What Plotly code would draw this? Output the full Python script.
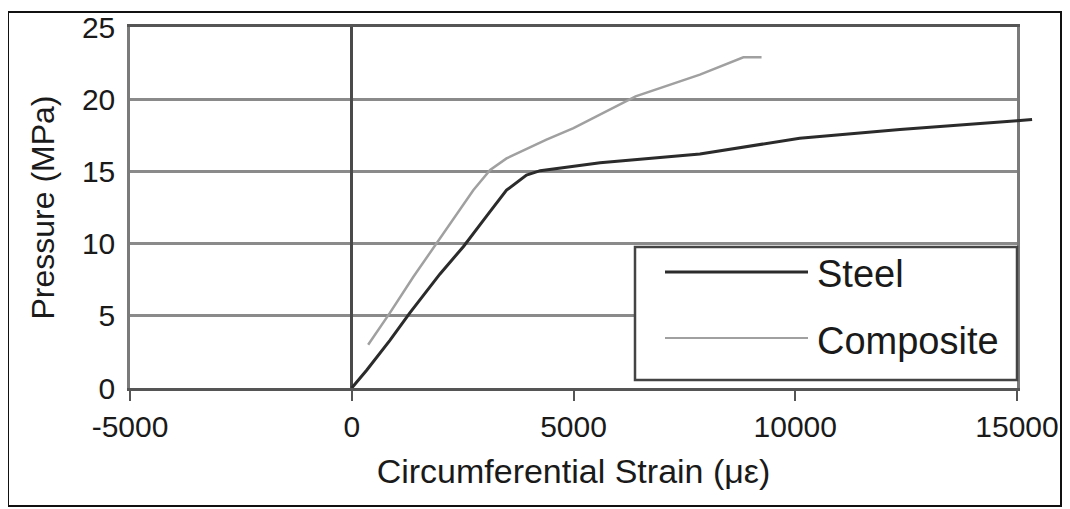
import plotly.graph_objects as go

# ---- data ----
steel_strain = [0, 340, 860, 1310, 1990, 2520, 3040, 3490, 3940, 4250, 5600, 7850, 10100, 12360, 15000, 15340]
steel_pressure = [0, 1.25, 3.3, 5.2, 7.9, 9.8, 11.9, 13.7, 14.75, 15.05, 15.6, 16.2, 17.3, 17.9, 18.5, 18.6]

comp_strain = [370, 860, 1390, 1910, 2370, 2740, 3120, 3490, 4390, 5000, 6400, 7850, 8830, 9240]
comp_pressure = [3.0, 5.2, 7.7, 10.0, 12.0, 13.7, 15.1, 15.9, 17.2, 18.0, 20.2, 21.7, 22.9, 22.9]

x_ticks = [-5000, 0, 5000, 10000, 15000]
y_ticks = [0, 5, 10, 15, 20, 25]
series_names = ["Steel", "Composite"]

# ---- layout geometry (pixels); page body adds an 8px offset ----
OFF = 8
W, H = 1070, 509
L = 130 - OFF
T = 27 - OFF
B = H - (388 - OFF)
R = 30
PW = W - L - R
PH = H - T - B
MAIN_W = 887                            # width of the -5000..15000 axis
x_main_dom = MAIN_W / PW
x2_max = -5000 + 20000 * PW / MAIN_W    # extended axis so the steel tail can overhang

def px(xs):
    return (xs - OFF - L) / PW

def py(ys):
    return (H - B - (ys - OFF)) / PH

FONT = "Liberation Sans, Arial, sans-serif"
TXT = "#1a1a1a"
GRID = "#8a8a8a"

fig = go.Figure()
fig.add_trace(go.Scatter(x=comp_strain, y=comp_pressure, mode="lines", name=series_names[1],
                         line=dict(color="#a0a0a0", width=2.5), xaxis="x", yaxis="y", showlegend=False))
fig.add_trace(go.Scatter(x=steel_strain, y=steel_pressure, mode="lines", name=series_names[0],
                         line=dict(color="#2b2b2b", width=3), xaxis="x2", yaxis="y2", showlegend=False))

fig.update_layout(
    width=W, height=H,
    margin=dict(l=L, r=R, t=T, b=B, autoexpand=False),
    paper_bgcolor="white",
    plot_bgcolor="rgba(0,0,0,0)",
    font=dict(family=FONT, color=TXT, size=27),
    xaxis=dict(
        domain=[0, x_main_dom], range=[-5000, 15000], tickvals=x_ticks,
        ticktext=[str(v) for v in x_ticks],
        showgrid=False, zeroline=True, zerolinecolor="#4a4a4a", zerolinewidth=2.5,
        showline=True, linecolor="#555555", linewidth=2.5, mirror=True,
        ticks="outside", ticklen=10, tickwidth=2, tickcolor="#555555",
        tickfont=dict(size=30, color=TXT),
        title=dict(text="Circumferential Strain (\u03bc\u03b5)", font=dict(size=34, color=TXT), standoff=18),
        anchor="y", fixedrange=True, automargin=False,
    ),
    yaxis=dict(
        range=[0, 25], tickvals=y_ticks,
        showgrid=True, gridcolor=GRID, gridwidth=2.5,
        zeroline=False,
        showline=True, linecolor="#7a7a7a", linewidth=2.5, mirror=True,
        ticks="", tickfont=dict(size=30, color=TXT), ticklabelstandoff=6,
        title=dict(text="Pressure (MPa)", font=dict(size=32, color=TXT), standoff=18),
        anchor="x", fixedrange=True, automargin=False,
    ),
    xaxis2=dict(
        domain=[0, 1], range=[-5000, x2_max], visible=False, anchor="y2", fixedrange=True,
    ),
    yaxis2=dict(
        range=[0, 25], overlaying="y", visible=False, anchor="x2", fixedrange=True,
    ),
)

shapes = []
# outer frame
shapes.append(dict(type="rect", xref="paper", yref="paper",
                   x0=px(8), x1=px(1061), y0=py(506), y1=py(12),
                   line=dict(color="#111111", width=2), layer="below"))
# legend box
shapes.append(dict(type="rect", xref="paper", yref="paper",
                   x0=px(635), x1=px(1017), y0=py(380), y1=py(247),
                   line=dict(color="#444444", width=2.5), fillcolor="white", layer="above"))
# legend line samples
shapes.append(dict(type="line", xref="paper", yref="paper",
                   x0=px(665), x1=px(808), y0=py(272), y1=py(272),
                   line=dict(color="#2b2b2b", width=3), layer="above"))
shapes.append(dict(type="line", xref="paper", yref="paper",
                   x0=px(665), x1=px(808), y0=py(338), y1=py(338),
                   line=dict(color="#a0a0a0", width=2), layer="above"))
fig.update_layout(shapes=shapes)

fig.add_annotation(x=px(815), y=py(274), xref="paper", yref="paper", text=series_names[0],
                   showarrow=False, xanchor="left", yanchor="middle",
                   font=dict(size=38, color=TXT, family=FONT))
fig.add_annotation(x=px(815), y=py(341), xref="paper", yref="paper", text=series_names[1],
                   showarrow=False, xanchor="left", yanchor="middle",
                   font=dict(size=38, color=TXT, family=FONT))

fig.write_html("out.html")
